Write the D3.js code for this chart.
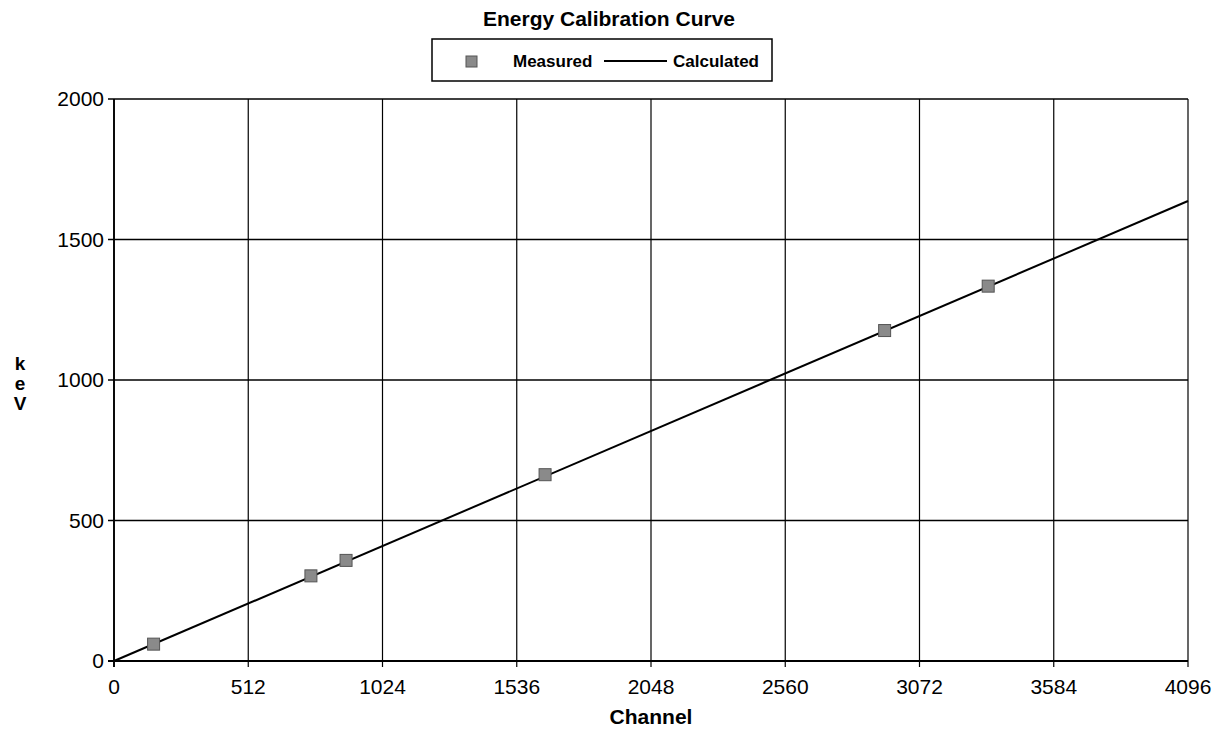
<!DOCTYPE html>
<html>
<head>
<meta charset="utf-8">
<script src="https://cdn.jsdelivr.net/npm/d3@7"></script>
<style>
  body { margin: 0; background: #fff; }
  svg { font-family: Arial, "Liberation Sans", sans-serif; }
</style>
</head>
<body>
<div id="chart"></div>
<script>
// measured calibration points
const channels = [151, 751, 885, 1644, 2939, 3334];
const measuredKeV = [60, 303, 358, 663, 1176, 1334];
// fitted line
const calcChannels = [0, 4096];
const calcKeV = [0, 1637];
const xTicks = [0, 512, 1024, 1536, 2048, 2560, 3072, 3584, 4096];
const yTicks = [0, 500, 1000, 1500, 2000];

const width = 1225, height = 732;
const margin = {top: 99, right: 37, bottom: 71, left: 114};

const svg = d3.select("#chart").append("svg")
    .attr("width", width)
    .attr("height", height);

const x = d3.scaleLinear().domain([0, 4096]).range([margin.left, width - margin.right]);
const y = d3.scaleLinear().domain([0, 2000]).range([height - margin.bottom, margin.top]);

// grid
svg.append("g")
    .selectAll("line")
    .data(xTicks)
    .enter().append("line")
    .attr("x1", d => x(d)).attr("x2", d => x(d))
    .attr("y1", y(2000)).attr("y2", y(0) + 6)
    .attr("stroke", "#000").attr("stroke-width", 1.2);

svg.append("g")
    .selectAll("line")
    .data(yTicks)
    .enter().append("line")
    .attr("x1", x(0) - 6).attr("x2", x(4096))
    .attr("y1", d => y(d)).attr("y2", d => y(d))
    .attr("stroke", "#000").attr("stroke-width", d => d === 0 ? 2 : 1.5);

// left axis line
svg.append("line")
    .attr("x1", x(0)).attr("x2", x(0))
    .attr("y1", y(2000)).attr("y2", y(0) + 6)
    .attr("stroke", "#000").attr("stroke-width", 1.8);

// tick labels
svg.append("g")
    .selectAll("text")
    .data(xTicks)
    .enter().append("text")
    .attr("x", d => x(d))
    .attr("y", y(0) + 33)
    .attr("text-anchor", "middle")
    .attr("font-size", "21px")
    .text(d => d);

svg.append("g")
    .selectAll("text")
    .data(yTicks)
    .enter().append("text")
    .attr("x", x(0) - 10)
    .attr("y", d => y(d) + 7)
    .attr("text-anchor", "end")
    .attr("font-size", "21px")
    .text(d => d);

// calculated line
const line = d3.line().x(d => x(d[0])).y(d => y(d[1]));
svg.append("path")
    .datum(calcChannels.map((c, i) => [c, calcKeV[i]]))
    .attr("d", line)
    .attr("fill", "none")
    .attr("stroke", "#000")
    .attr("stroke-width", 2);

// measured markers
svg.append("g")
    .selectAll("rect")
    .data(channels.map((c, i) => [c, measuredKeV[i]]))
    .enter().append("rect")
    .attr("x", d => x(d[0]) - 6)
    .attr("y", d => y(d[1]) - 6)
    .attr("width", 12).attr("height", 12)
    .attr("fill", "#8a8a8a")
    .attr("stroke", "#555")
    .attr("stroke-width", 1);

// title
svg.append("text")
    .attr("x", 609).attr("y", 26)
    .attr("text-anchor", "middle")
    .attr("font-size", "21px")
    .attr("font-weight", "bold")
    .text("Energy Calibration Curve");

// legend
const legend = svg.append("g");
legend.append("rect")
    .attr("x", 432).attr("y", 39)
    .attr("width", 340).attr("height", 42)
    .attr("fill", "none").attr("stroke", "#000").attr("stroke-width", 1.5);
legend.append("rect")
    .attr("x", 466).attr("y", 56).attr("width", 11).attr("height", 11)
    .attr("fill", "#8a8a8a").attr("stroke", "#555");
legend.append("text")
    .attr("x", 513).attr("y", 67)
    .attr("font-size", "17px").attr("font-weight", "bold")
    .text("Measured");
legend.append("line")
    .attr("x1", 604).attr("x2", 667).attr("y1", 61).attr("y2", 61)
    .attr("stroke", "#000").attr("stroke-width", 2);
legend.append("text")
    .attr("x", 673).attr("y", 67)
    .attr("font-size", "17px").attr("font-weight", "bold")
    .text("Calculated");

// axis titles
svg.append("text")
    .attr("x", (x(0) + x(4096)) / 2)
    .attr("y", 724)
    .attr("text-anchor", "middle")
    .attr("font-size", "21px").attr("font-weight", "bold")
    .text("Channel");

svg.append("g")
    .selectAll("text")
    .data(["k", "e", "V"])
    .enter().append("text")
    .attr("x", 20)
    .attr("y", (d, i) => 370 + i * 20)
    .attr("text-anchor", "middle")
    .attr("font-size", "19px").attr("font-weight", "bold")
    .text(d => d);
</script>
</body>
</html>
